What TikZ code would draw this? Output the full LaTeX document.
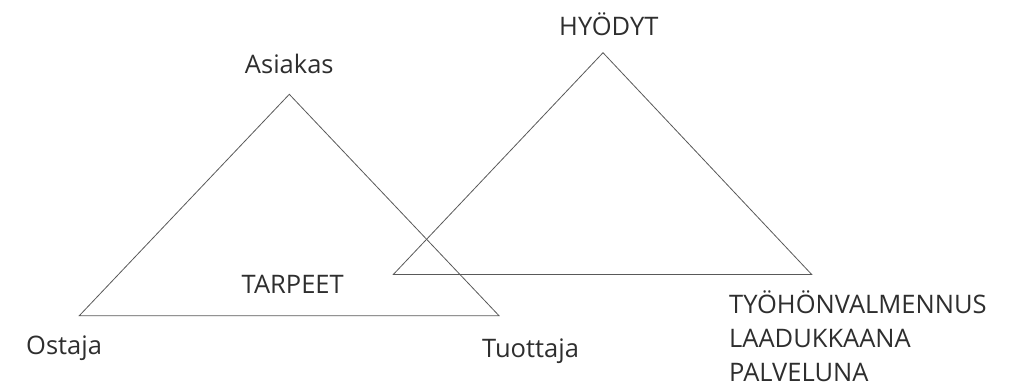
\documentclass[tikz,border=0pt]{standalone}
\usepackage{fontspec}
\setmainfont{Open Sans}
\begin{document}
\begin{tikzpicture}[x=1pt,y=-1pt,
  edge/.style={draw=black!65, line width=0.8pt, line join=miter},
  lbl/.style={inner sep=0pt, text=black!82, font=\fontsize{25.5}{34}\selectfont}]
\useasboundingbox (0,0) rectangle (1017,386);
% vertices of the two triangles
\coordinate (a1) at (289.3,94.3);
\coordinate (b1) at (79.3,315.7);
\coordinate (c1) at (499,315.7);
\coordinate (a2) at (603,52.7);
\coordinate (b2) at (393.3,274.5);
\coordinate (c2) at (811.7,274.5);
\draw[edge] (a1) -- (b1) -- (c1) -- cycle;
\draw[edge] (a2) -- (b2) -- (c2) -- cycle;
% labels
\node[lbl, anchor=base] (asiakas) at (289.3,73) {Asiakas};
\node[lbl, anchor=base] (tarpeet) at (292.7,293.5) {TARPEET};
\node[lbl, anchor=base west] (ostaja) at (26,354) {Ostaja};
\node[lbl, anchor=base west] (tuottaja) at (482,357) {Tuottaja};
\node[lbl, anchor=base] (hyodyt) at (608.8,35) {HYÖDYT};
% multi-line node: base anchor sits on the last line
\node[lbl, anchor=base west, align=left] (palvelu) at (729,381)
  {TYÖHÖNVALMENNUS\\LAADUKKAANA\\PALVELUNA};
\end{tikzpicture}
\end{document}
